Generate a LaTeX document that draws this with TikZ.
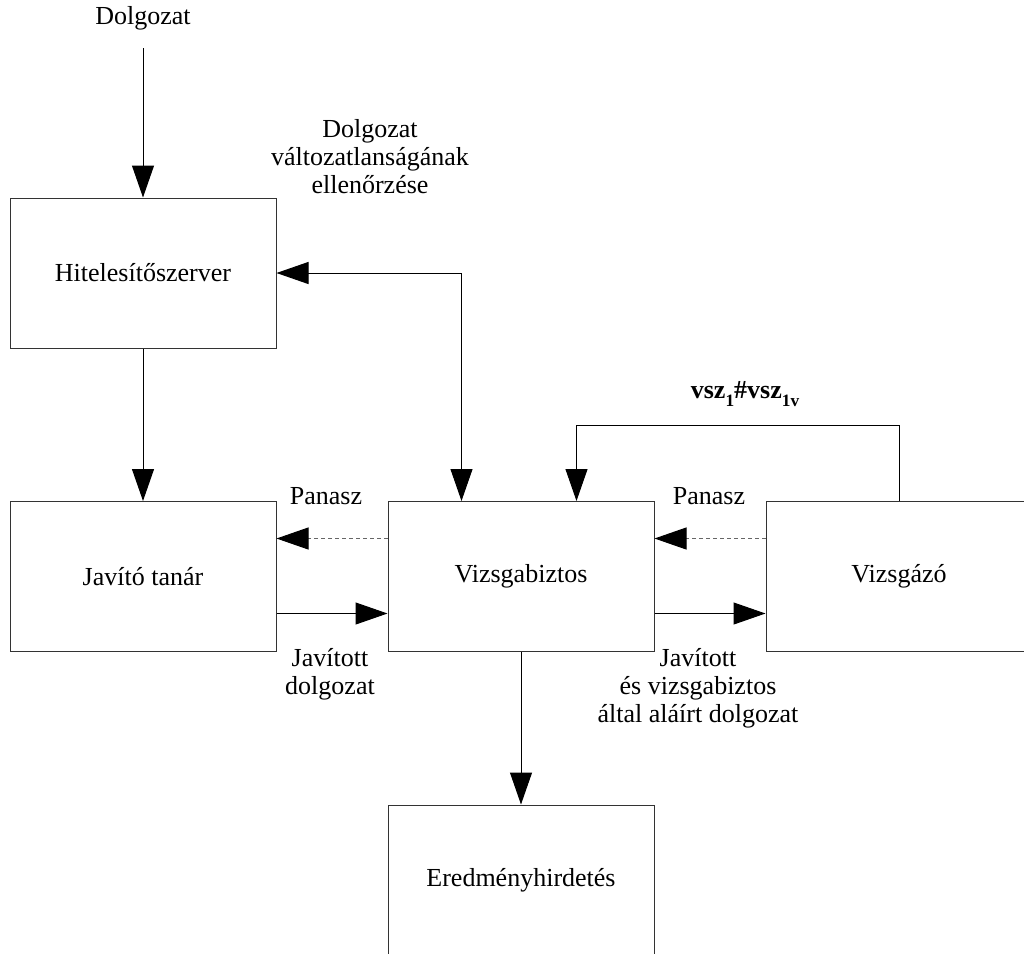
\documentclass[tikz,border=0pt]{standalone}
\usepackage{fontspec}
\setmainfont{Liberation Serif}
\usetikzlibrary{arrows.meta}
\newcommand{\lowsub}[1]{\raisebox{-0.32em}{\fontsize{13}{13}\selectfont\bfseries #1}}
\begin{document}
\begin{tikzpicture}[x=0.75pt,y=-0.75pt,
  font=\fontsize{19.5}{21}\selectfont,
  procbox/.style={draw=black!80,line width=0.75pt,minimum width=199.5pt,
    minimum height=112.5pt,inner sep=0pt,align=center},
  lbl/.style={align=center,inner sep=0pt},
  flow/.style={line width=0.75pt,-{Triangle[length=24pt,width=16.5pt]}},
  bothflow/.style={line width=0.75pt,{Triangle[length=24pt,width=16.5pt]}-{Triangle[length=24pt,width=16.5pt]}},
  complaint/.style={line width=0.75pt,draw=black!60,dash pattern=on 3pt off 2.2pt,
    -{Triangle[length=24pt,width=16.5pt,color=black]}}]
  \useasboundingbox (0,0) rectangle (1024,953);

  % process boxes
  \node[procbox] (hit)   at (143,273) {Hitelesítőszerver};
  \node[procbox] (jav)   at (143,576.5) {Javító tanár};
  \node[procbox] (vb)    at (521,576.5) {Vizsgabiztos};
  \node[procbox] (vzo)   at (899,576.5) {Vizsgázó};
  \node[procbox] (ered)  at (521,880) {Eredményhirdetés};

  % incoming paper
  \node[lbl] (in) at (143,18) {Dolgozat};
  \draw[flow] ([yshift=-22.5pt]in.center) -- (hit.north);

  % server to corrector
  \draw[flow] (hit.south) -- (jav.north);

  % integrity check between examiner and server
  \draw[bothflow] ([xshift=55.5pt]vb.north west) |- (hit.east);
  \node[lbl] (chk) at (370,157) {Dolgozat\\változatlanságának\\ellenőrzése};

  % candidate's hash back to examiner
  \draw[flow] (vzo.north) -- ++(0,-76) -| ([xshift=141.75pt]vb.north west);
  \node[lbl] (hash) at (745,394) {\textbf{vsz\lowsub{1}\#vsz\lowsub{1v}}};

  % complaints
  \draw[complaint] ([yshift=28.5pt]vb.west) -- ([yshift=28.5pt]jav.east);
  \draw[complaint] ([yshift=28.5pt]vzo.west) -- ([yshift=28.5pt]vb.east);
  \node[lbl] (pan1) at (326,496) {Panasz};
  \node[lbl] (pan2) at (709,496) {Panasz};

  % corrected paper flow
  \draw[flow] ([yshift=-27.75pt]jav.east) -- ([yshift=-27.75pt]vb.west);
  \draw[flow] ([yshift=-27.75pt]vb.east) -- ([yshift=-27.75pt]vzo.west);
  \node[lbl] (jd) at (330,674) {Javított\\dolgozat};
  \node[lbl] (jvd) at (698,688) {Javított\\és vizsgabiztos\\által aláírt dolgozat};

  % results
  \draw[flow] (vb.south) -- (ered.north);
\end{tikzpicture}
\end{document}
